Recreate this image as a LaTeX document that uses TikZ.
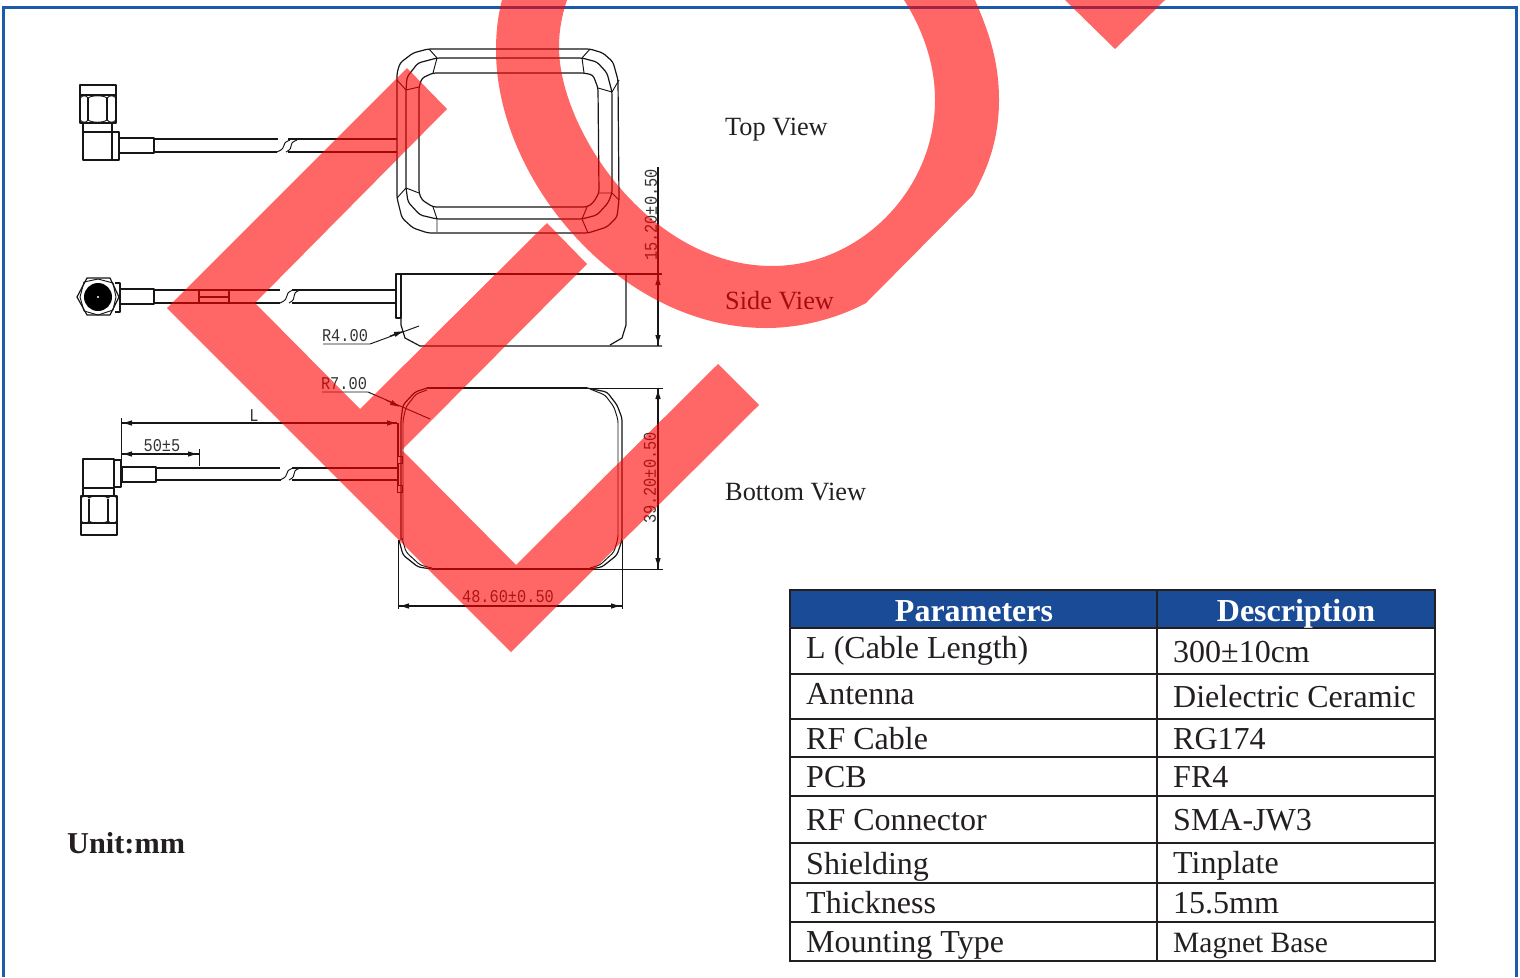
\documentclass[tikz,border=0pt]{standalone}
\usepackage{fontspec}
\setmainfont{Liberation Serif}
\newfontfamily\cadfont[FakeStretch=0.85]{Liberation Mono}
\usetikzlibrary{arrows.meta}
\definecolor{framec}{HTML}{1C5BA8}
\definecolor{headc}{HTML}{1A4B96}
\definecolor{inkc}{HTML}{231F20}
\definecolor{cadc}{HTML}{161616}
\tikzset{
  cad/.style={draw=cadc,line width=1.2pt,line join=round},
  thin cad/.style={draw=cadc,line width=0.95pt,line join=round},
  tipped/.style={draw=cadc,line width=1pt,-{Latex[length=10pt,width=5.5pt]}},
  cadtext/.style={inner sep=0pt,text=black!80,font=\cadfont\fontsize{18}{20}\selectfont},
  view/.style={inner sep=0pt,anchor=base west,text=inkc,font=\fontsize{26.3}{30}\selectfont},
  cell/.style={inner sep=0pt,anchor=base west,text=inkc,font=\fontsize{32}{36}\selectfont},
  smallcell/.style={inner sep=0pt,anchor=base west,text=inkc,font=\fontsize{29.5}{34}\selectfont},
  headtext/.style={inner sep=0pt,anchor=base,text=white,font=\bfseries\fontsize{32}{36}\selectfont},
  grid/.style={draw=inkc,line width=2pt},
  water/.style={fill=red,fill opacity=0.6,draw=none}
}
\newcommand{\cablebreak}[3]{%
  \draw[thin cad] (#1+13,#2) .. controls (#1+2,#2+4) and (#1+12,#3-5) .. (#1,#3);
  \draw[thin cad] (#1+20,#2) .. controls (#1+9,#2+4) and (#1+19,#3-5) .. (#1+9,#3);}
\begin{document}
\begin{tikzpicture}[x=1pt,y=-1pt]
\useasboundingbox (0,0) rectangle (1520,977);
% frame
\draw[framec,line width=3pt] (3,977) -- (3,7) -- (1516,7) -- (1516,977);

%% ---- top view: connector and cable
\draw[cad] (80,85) rectangle (116,123);
\draw[cad] (80,95) -- (116,95);
\draw[cad] (88,98) -- (88,120) (107,98) -- (107,120);
\draw[thin cad] (80,98) .. controls (83,95) and (86,95) .. (88,98) .. controls (92,95) and (103,95) .. (107,98) .. controls (110,95) and (113,95) .. (116,98);
\draw[thin cad] (80,120) .. controls (83,123) and (86,123) .. (88,120) .. controls (92,123) and (103,123) .. (107,120) .. controls (110,123) and (113,123) .. (116,120);
\draw[cad] (83,123) -- (83,132) (112,123) -- (112,132);
\draw[cad] (83,132) rectangle (112,160);
\draw[cad] (112,132) rectangle (119,160);
\draw[cad] (119,138) rectangle (154,153);
\draw[cad] (154,139) -- (278,139) (288,139) -- (397,139);
\draw[cad] (154,152) -- (277,152) (288,152) -- (397,152);
\cablebreak{277}{140}{152}

%% ---- top view: body
\draw[cad,rounded corners=3pt] (428,49) -- (590,49) -- (603,53) -- (613,62) -- (618,80) -- (619,200) -- (617,217) -- (607,227) -- (588,233) -- (428,233) -- (413,228) -- (402,218) -- (397,198) -- (397,73) -- (400,63) -- (413,53) -- cycle;
\draw[cad,rounded corners=3pt] (437,58) -- (582,58) -- (597,62) -- (607,73) -- (612,92) -- (612,193) -- (608,203) -- (597,215) -- (582,219) -- (437,219) -- (420,215) -- (408,202) -- (406,188) -- (406,90) -- (407,77) -- (418,63) -- cycle;
\draw[cad,rounded corners=3pt] (433,73) -- (584,73) -- (593,75) -- (598,88) -- (599,193) -- (593,203) -- (587,207) -- (433,207) -- (422,200) -- (419,193) -- (419,87) -- (422,78) -- cycle;
\draw[thin cad] (397,80) -- (406,90) -- (419,87) (429,49) -- (437,58) -- (433,73);
\draw[thin cad] (590,49) -- (582,58) -- (584,73) (612,92) -- (619,80) (598,88) -- (612,92);
\draw[thin cad] (612,193) -- (619,200) (599,193) -- (612,193) (582,219) -- (588,233) (582,219) -- (587,207);
\draw[thin cad] (406,188) -- (397,198) (406,188) -- (419,193) (437,219) -- (437,232) (437,219) -- (433,207);

%% ---- side view: connector and cable
\draw[cad] (87,278) -- (110,278) -- (119,297) -- (110,315) -- (87,315) -- (77,297) -- cycle;
\draw[thin cad] (84,282) -- (98,279) -- (113,283) -- (116,297) -- (113,310) -- (98,315) -- (84,311) -- (80,297) -- cycle;
\fill[black] (98,297) circle (14);
\fill[white] (98,297) circle (1.2);
\draw[cad] (115,283) -- (120,283) -- (120,312) -- (115,312);
\draw[cad] (120,289) rectangle (154,304);
\draw[cad] (154,290) -- (280,290) (292,290) -- (396,290);
\draw[cad] (154,303) -- (280,303) (292,303) -- (396,303);
\cablebreak{280}{290}{303}
\draw[cad] (199,290) rectangle (229,303);
\draw[cad] (199,297) -- (229,297);

%% ---- side view: body
\draw[cad] (396,274) -- (662,274);
\draw[cad] (396,274) rectangle (401,318);
\draw[cad] (401,318) -- (401,325) -- (405,338) -- (420,346) -- (662,346);
\draw[cad] (626,274) -- (626,325) -- (622,338) -- (610,345);
\node[cadtext] (r4) at (345,336) {R4.00};
\draw[thin cad] (323,344) -- (370,344) -- (419,326);
\draw[tipped] (390,336) -- (404,331);
\draw[cad] (658,167) -- (658,346);
\draw[tipped] (658,290) -- (658,275);
\draw[tipped] (658,331) -- (658,345);
\node[cadtext,rotate=90] (d1520) at (651,215) {15.20±0.50};

%% ---- bottom view: connector and cable
\draw[cad] (83,459) rectangle (114,488);
\draw[cad] (114,460) rectangle (121,487);
\draw[cad] (122,467) rectangle (156,482);
\draw[cad] (83,488) -- (83,496) (114,488) -- (114,496);
\draw[cad] (81,496) rectangle (117,535);
\draw[cad] (81,523) -- (117,523);
\draw[cad] (89,499) -- (89,521) (108,499) -- (108,521);
\draw[thin cad] (81,498) .. controls (84,495) and (87,495) .. (89,498) .. controls (93,495) and (104,495) .. (108,498) .. controls (111,495) and (114,495) .. (117,498);
\draw[thin cad] (81,521) .. controls (84,524) and (87,524) .. (89,521) .. controls (93,524) and (104,524) .. (108,521) .. controls (111,524) and (114,524) .. (117,521);
\draw[cad] (156,468) -- (280,468) (292,468) -- (397,468);
\draw[cad] (156,480) -- (281,480) (292,480) -- (397,480);
\cablebreak{280}{468}{480}

%% ---- bottom view: body
\draw[cad,line width=1.6pt] (427,388) -- (587,388);
\draw[thin cad] (587,388) -- (663,388);
\draw[cad,rounded corners=3pt] (587,388) -- (607,392) -- (617,405) -- (622,418) -- (622,540) -- (617,555) -- (602,567) -- (590,569);
\draw[thin cad,rounded corners=3pt] (590,389) -- (605,395) -- (614,407) -- (618,420) -- (618,538) -- (614,552) -- (600,565) -- (590,568);
\draw[cad,line width=1.6pt] (432,569) -- (590,569);
\draw[thin cad] (590,569) -- (663,569);
\draw[cad,rounded corners=3pt] (432,569) -- (418,567) -- (403,555) -- (399,540);
\draw[thin cad,rounded corners=3pt] (432,568) -- (420,565) -- (406,552) -- (402,538);
\draw[cad,rounded corners=3pt] (427,388) -- (415,392) -- (403,405) -- (401,420) -- (401,540);
\draw[thin cad,rounded corners=3pt] (427,390) -- (416,394) -- (406,407) -- (403,420) -- (403,540);
\draw[cad,line width=1.8pt] (398,423) -- (398,456);
\draw[cad] (398,463) -- (398,485);
\draw[thin cad] (397,456) rectangle (402,463);
\draw[thin cad] (397,485) rectangle (402,492);
\draw[thin cad] (398,540) -- (398,609);
\draw[thin cad] (622,540) -- (622,609);
\draw[cad] (398,606) -- (622,606);
\draw[tipped] (412,606) -- (399,606);
\draw[tipped] (608,606) -- (621,606);
\node[cadtext] (d4860) at (508,597) {48.60±0.50};
\draw[cad] (658,388) -- (658,569);
\draw[tipped] (658,403) -- (658,389);
\draw[tipped] (658,554) -- (658,568);
\node[cadtext,rotate=90] (d3920) at (650,478) {39.20±0.50};
\node[cadtext] (r7) at (344,384) {R7.00};
\draw[thin cad] (322,392) -- (368,392) -- (430,419);
\draw[tipped] (386,400) -- (400,407);
\draw[thin cad] (121,418) -- (121,460);
\draw[cad] (121,423) -- (397,423);
\draw[tipped] (134,423) -- (122,423);
\draw[tipped] (384,423) -- (397,423);
\draw[cad] (121,454) -- (199,454);
\draw[tipped] (134,454) -- (122,454);
\draw[tipped] (186,454) -- (198,454);
\draw[thin cad] (199,449) -- (199,466);
\node[cadtext] (dL) at (254,416) {L};
\node[cadtext] (d50) at (162,446) {50±5};

%% ---- view labels
\node[view] (top) at (725,135) {Top View};
\node[view] (side) at (725,309) {Side View};
\node[view] (bottom) at (725,500) {Bottom View};
\node[inner sep=0pt,anchor=base west,text=inkc,font=\bfseries\fontsize{30.3}{34}\selectfont] (unit) at (67,853) {Unit:mm};

%% ---- table
\fill[headc] (790,590) rectangle (1435,628);
\draw[grid] (790,590) rectangle (1435,961);
\draw[grid] (1157,590) -- (1157,961);
\foreach \yy in {628,674,719,757,796,843,883,922} {\draw[grid] (790,\yy) -- (1435,\yy);}
\node[headtext] (hp) at (974,621) {Parameters};
\node[headtext] (hd) at (1296,621) {Description};
\node[cell] (p1) at (806,658) {L (Cable Length)};
\node[cell] (p2) at (806,704) {Antenna};
\node[cell] (p3) at (806,749) {RF Cable};
\node[cell] (p4) at (806,787) {PCB};
\node[cell] (p5) at (806,830) {RF Connector};
\node[cell] (p6) at (806,874) {Shielding};
\node[cell] (p7) at (806,913) {Thickness};
\node[cell] (p8) at (806,952) {Mounting Type};
\node[cell] (v1) at (1173,662) {300±10cm};
\node[cell] (v2) at (1173,707) {Dielectric Ceramic};
\node[cell] (v3) at (1173,749) {RG174};
\node[cell] (v4) at (1173,787) {FR4};
\node[cell] (v5) at (1173,830) {SMA-JW3};
\node[cell] (v6) at (1173,873) {Tinplate};
\node[cell] (v7) at (1173,913) {15.5mm};
\node[smallcell] (v8) at (1173,952) {Magnet Base};

%% ---- red overlay
\fill[water] (407,68) -- (447,109) -- (255,303) -- (360,409) -- (547,223) -- (587,264) -- (402,450) -- (516,565) -- (718,364) -- (759,405) -- (511,652) -- (167,308) -- cycle;
\fill[water] (1065,0) -- (1115,49) -- (1165,0) -- cycle;
\fill[water] (502,0) .. controls (498,15) and (496,32) .. (496,50)
  .. controls (496,180) and (620,328) .. (766,328)
  .. controls (802,328) and (838,318) .. (866,303)
  -- (973,195)
  .. controls (990,165) and (999,135) .. (999,100)
  .. controls (999,60) and (988,30) .. (975,0)
  -- (904,0)
  .. controls (920,25) and (935,60) .. (935,100)
  .. controls (935,190) and (860,266) .. (772,266)
  .. controls (650,266) and (559,130) .. (559,47)
  .. controls (559,30) and (562,15) .. (567,0)
  -- cycle;
\end{tikzpicture}
\end{document}
